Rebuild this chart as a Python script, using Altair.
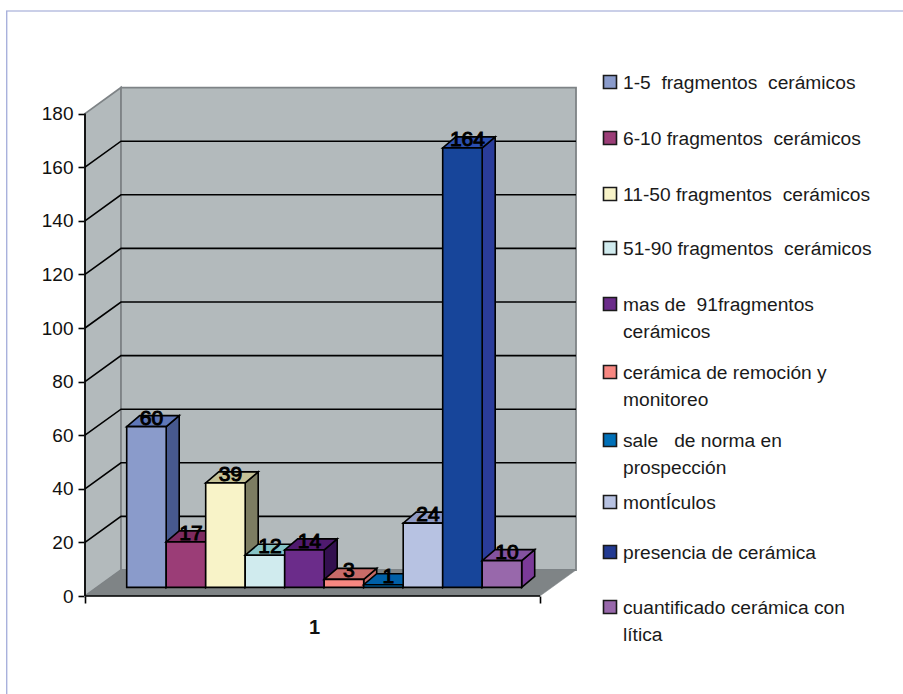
import altair as alt
import pandas as pd

# Series of the single category "1"
labels = [
    "1-5\u00a0 fragmentos\u00a0 cerámicos",
    "6-10 fragmentos\u00a0 cerámicos",
    "11-50 fragmentos\u00a0 cerámicos",
    "51-90 fragmentos\u00a0 cerámicos",
    "mas de\u00a0 91fragmentos\ncerámicos",
    "cerámica de remoción y\nmonitoreo",
    "sale\u00a0\u00a0 de norma en\nprospección",
    "montÍculos",
    "presencia de cerámica",
    "cuantificado cerámica con\nlítica",
]
values = [60, 17, 39, 12, 14, 3, 1, 24, 164, 10]

front_colors = ["#8a9bcb", "#9b3d77", "#f8f3c8", "#d0ebee", "#6b2c8a",
                "#f78781", "#0070b8", "#b7c2e2", "#17459a", "#9868ab"]
side_colors = ["#47598f", "#5e2249", "#7d7d62", "#7f9294", "#33104f",
               "#c46a66", "#004a80", "#747e9c", "#2a3c9a", "#7b3a98"]
top_colors = ["#5f77b8", "#7d2a60", "#c5c297", "#86c3c5", "#4f1a6e",
              "#c96b68", "#0060a8", "#8f9ac5", "#2b4fb0", "#8352a0"]
legend_colors = ["#8a9bcb", "#9b3d77", "#f8f3c8", "#d0ebee", "#6b2c8a",
                 "#f78781", "#0070b8", "#b7c2e2", "#223a92", "#9868ab"]

y_ticks = list(range(0, 181, 20))

# Layout in pixels
PLOT_W, PLOT_H = 491, 509
PAD_L, PAD_T = 85, 87
SLOT_PX = 39.5
UNIT_PX = 2.68

# Projection of the box, in axis units
X_MAX = PLOT_W / SLOT_PX
Y_MAX = PLOT_H / UNIT_PX
FLOOR_W = 455 / SLOT_PX
WALL_DX, WALL_DY = 36 / SLOT_PX, 26 / UNIT_PX
BAR_X0 = 41.7 / SLOT_PX
BAR_BASE = 3.2
BAR_DX, BAR_DY = 13 / SLOT_PX, 11 / UNIT_PX
TOP = y_ticks[-1]

EDGE = "#7e8386"
WALL = "#b3babc"
FLOOR = "#7f8486"
LINE_W = 1.6


def face_rows(points, face, fill, stroke, width):
    return [dict(face=face, x=x, y=lo, y2=hi, paint=fill, edge=stroke, sw=width)
            for x, lo, hi in points]


# Left wall, back wall and floor
box_rows = (
    face_rows([(0, 0, TOP), (WALL_DX, WALL_DY, TOP + WALL_DY)], 0, WALL, EDGE, 1.8)
    + face_rows([(WALL_DX, WALL_DY, TOP + WALL_DY), (X_MAX, WALL_DY, TOP + WALL_DY)], 1, WALL, EDGE, 1.8)
    + face_rows([(0, 0, 0), (WALL_DX, 0, WALL_DY), (FLOOR_W, 0, WALL_DY),
                 (FLOOR_W + WALL_DX, WALL_DY, WALL_DY)], 2, FLOOR, FLOOR, 0.5)
)
box_df = pd.DataFrame(box_rows)

# Gridlines run along the left wall and across the back wall
grid_rows = []
for v in y_ticks[1:-1]:
    grid_rows += [dict(line=v, x=0, y=v), dict(line=v, x=WALL_DX, y=v + WALL_DY),
                  dict(line=v, x=X_MAX, y=v + WALL_DY)]
grid = pd.DataFrame(grid_rows)

# Bars are painted left to right: side, top, then front
bar_rows = []
for i, v in enumerate(values):
    x0 = BAR_X0 + i
    x1 = x0 + 1
    t = BAR_BASE + v
    bar_rows += face_rows([(x1, BAR_BASE, t), (x1 + BAR_DX, BAR_BASE + BAR_DY, t + BAR_DY)],
                          3 * i, side_colors[i], "#000000", LINE_W)
    bar_rows += face_rows([(x0, t, t), (x0 + BAR_DX, t, t + BAR_DY), (x1, t, t + BAR_DY),
                           (x1 + BAR_DX, t + BAR_DY, t + BAR_DY)],
                          3 * i + 1, top_colors[i], "#000000", LINE_W)
    bar_rows += face_rows([(x0, BAR_BASE, t), (x1, BAR_BASE, t)],
                          3 * i + 2, front_colors[i], "#000000", LINE_W)
bar_df = pd.DataFrame(bar_rows)

x_enc = alt.X("x:Q", scale=alt.Scale(domain=[0, X_MAX], nice=False, zero=False),
              axis=alt.Axis(values=[0, FLOOR_W], labels=False, domain=False, grid=False,
                            tickSize=7, tickWidth=LINE_W, tickColor="#000000",
                            title="1", titleFontSize=20, titleFontWeight="bold",
                            titleFont="Liberation Sans", titleColor="#111111",
                            titleX=229, titleY=37, titleBaseline="alphabetic"))
y_enc = alt.Y("y:Q", scale=alt.Scale(domain=[0, Y_MAX], nice=False, zero=False),
              axis=alt.Axis(values=y_ticks, domain=False, grid=False, title=None,
                            tickSize=7, tickWidth=LINE_W, tickColor="#000000",
                            labelFontSize=19, labelFont="Liberation Sans",
                            labelColor="#111111", labelPadding=5))


def area_layer(df):
    return alt.Chart(df).mark_area(interpolate="linear", opacity=1).encode(
        x=x_enc, y=y_enc, y2="y2:Q",
        detail="face:O",
        fill=alt.Fill("paint:N", scale=None),
        stroke=alt.Stroke("edge:N", scale=None),
        strokeWidth=alt.StrokeWidth("sw:Q", scale=None),
    )


grid_layer = alt.Chart(grid).mark_line(color="#000000", strokeWidth=LINE_W, interpolate="linear").encode(
    x=x_enc, y=y_enc, detail="line:N")

axis_lines = pd.DataFrame([
    dict(line="v", x=0, y=0), dict(line="v", x=0, y=TOP),
    dict(line="h", x=0, y=0), dict(line="h", x=FLOOR_W, y=0),
])
axis_layer = alt.Chart(axis_lines).mark_line(color="#000000", strokeWidth=1.7).encode(
    x=x_enc, y=y_enc, detail="line:N")

value_df = pd.DataFrame({
    "x": [BAR_X0 + i + 0.5 for i in range(len(values))],
    "y": [BAR_BASE + v for v in values],
    "value": values,
})
value_layer = alt.Chart(value_df).mark_text(
    font="Liberation Sans", fontSize=21, color="#000000",
    stroke="#000000", strokeWidth=1.0,
    baseline="alphabetic", align="center", dx=5, dy=-2,
).encode(x=x_enc, y=y_enc, text="value:Q")

# Legend rows: the first-line baselines are uneven because long names wrap
legend_baselines = [89, 145, 201, 255, 311, 379, 447, 509, 559, 614]
LEG_BOX_X = 610 - PAD_L
LEG_TEXT_X = 623 - PAD_L
legend_layers = []
for name, col, base in zip(labels, legend_colors, legend_baselines):
    row = alt.Chart(pd.DataFrame({"name": [name]}))
    legend_layers.append(row.mark_square(size=169, fill=col, stroke="#1a1a1a", strokeWidth=1.6, opacity=1).encode(
        x=alt.value(LEG_BOX_X), y=alt.value(base - 7 - PAD_T)))
    legend_layers.append(row.mark_text(
        font="Liberation Sans", fontSize=19.2, color="#1a1a1a", align="left",
        baseline="alphabetic", lineBreak="\n", lineHeight=26.5,
    ).encode(x=alt.value(LEG_TEXT_X), y=alt.value(base - PAD_T), text="name:N"))

# Thin frame around the chart, visible along the top and left
frame_src = alt.Chart(pd.DataFrame({"k": [0]}))
frame_top = frame_src.mark_rule(color="#b9bfe0", strokeWidth=1.6).encode(
    x=alt.value(6 - PAD_L), x2=alt.value(903 - PAD_L), y=alt.value(11 - PAD_T))
frame_left = frame_src.mark_rule(color="#a9b1dc", strokeWidth=1.4).encode(
    x=alt.value(6.7 - PAD_L), y=alt.value(11 - PAD_T), y2=alt.value(694 - PAD_T))

chart = alt.layer(
    frame_top, frame_left, area_layer(box_df), grid_layer, axis_layer,
    area_layer(bar_df), value_layer, *legend_layers,
).properties(
    width=PLOT_W, height=PLOT_H,
    autosize=alt.AutoSizeParams(type="none"),
    padding={"left": PAD_L, "top": PAD_T, "right": 903 - PAD_L - PLOT_W, "bottom": 694 - PAD_T - PLOT_H},
    background="#ffffff",
).configure_view(stroke=None)

chart.save("out.html", embed_options={"renderer": "svg", "actions": False})
